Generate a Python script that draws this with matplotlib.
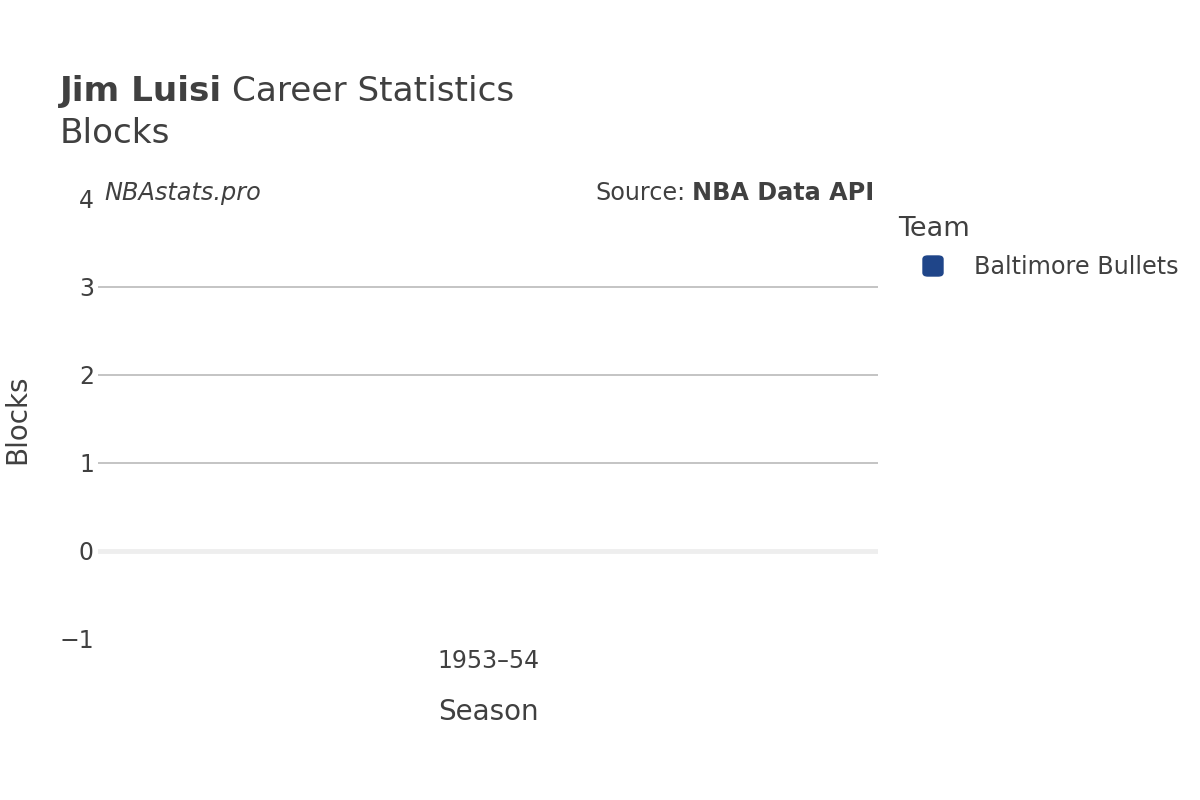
import matplotlib
matplotlib.use("Agg")
import matplotlib.pyplot as plt
from matplotlib.patches import FancyBboxPatch
import numpy as np

seasons = ["1953\u201354"]
blocks = [np.nan]
team = "Baltimore Bullets"
team_color = "#1f4589"

text_col = "#404040"
plt.rcParams['font.family'] = ['DejaVu Sans']

fig = plt.figure(figsize=(12, 8), dpi=100)
ax = fig.add_axes([98 / 1200, 1 - 639 / 800, 780 / 1200, 440 / 800])

x = np.arange(len(seasons))
ax.plot(x, blocks, color=team_color, lw=3, marker="o", ms=8, label=team)

ax.set_xlim(-1, 1)
ax.set_ylim(-1, 4)
ax.set_xticks(x)
ax.set_xticklabels(seasons)
ax.set_yticks([-1, 0, 1, 2, 3, 4])
ax.set_yticklabels(["\u22121", "0", "1", "2", "3", "4"])

# gridlines and the zero line
for v in [1, 2, 3]:
    ax.axhline(v, color="#c4c4c4", lw=1.4, zorder=0)
ax.axhline(0, color="#eeeeee", lw=3.5, zorder=0)

for s in ax.spines.values():
    s.set_visible(False)
ax.tick_params(axis="both", length=0, labelsize=17, colors=text_col)
ax.tick_params(axis="x", pad=7)
ax.tick_params(axis="y", pad=3)

ax.set_xlabel("Season", fontsize=20, color=text_col, va="center")
ax.xaxis.set_label_coords(0.5, -(712 - 639) / 440)
ax.set_ylabel("Blocks", fontsize=20, color=text_col, va="center")
ax.yaxis.set_label_coords(-(98 - 17) / 780, 0.5)

# titles
t1 = fig.text(60 / 1200, 1 - 101 / 800, "Jim Luisi", fontsize=24.7, color=text_col,
              fontweight="bold")
fig.canvas.draw()
bb = t1.get_window_extent()
fig.text(bb.x1 / 1200 + 0.008, 1 - 101 / 800, "Career Statistics", fontsize=24.7,
         color=text_col)
fig.text(60 / 1200, 1 - 143 / 800, "Blocks", fontsize=24.7, color=text_col)

# watermark and source
fig.text(104 / 1200, 1 - 200 / 800, "NBAstats.pro", fontsize=17.3, style="italic",
         color=text_col)
src = fig.text(874 / 1200, 1 - 200 / 800, "NBA Data API", fontsize=17.2, fontweight="bold",
               color=text_col, ha="right")
fig.canvas.draw()
sb = src.get_window_extent()
fig.text(sb.x0 / 1200 - 0.005, 1 - 200 / 800, "Source:", fontsize=17.2, color=text_col,
         ha="right")

# legend
fig.text(898 / 1200, 1 - 236 / 800, "Team", fontsize=19.5, color=text_col)
fig.patches.append(FancyBboxPatch(
    (923 / 1200, 1 - 276 / 800), 20 / 1200, 20 / 800,
    boxstyle="round,pad=0,rounding_size=0.004", transform=fig.transFigure,
    facecolor=team_color, edgecolor=team_color, figure=fig))
fig.text(974 / 1200, 1 - 267 / 800, team, fontsize=17.2, color=text_col, va="center")

fig.savefig("out.png", dpi=100, facecolor="white")
